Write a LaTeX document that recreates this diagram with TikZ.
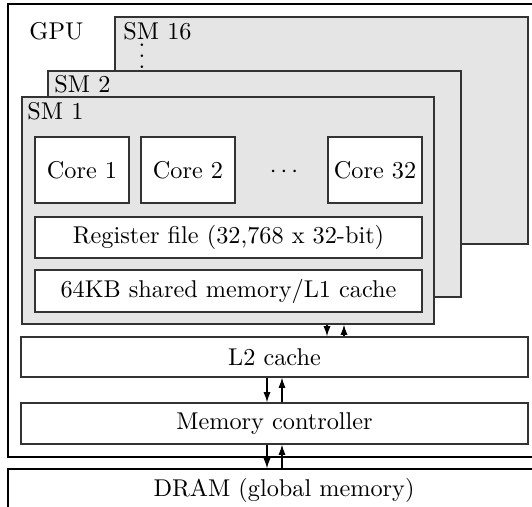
\documentclass[tikz,border=0pt]{standalone}
\usetikzlibrary{arrows.meta}
\begin{document}
\begin{tikzpicture}[x=0.412pt,y=-0.412pt,
  sz/.style 2 args={minimum width=#1*0.412pt,minimum height=#2*0.412pt},
  box/.style={draw=black!80,line width=0.5pt,fill=white,inner sep=0pt},
  smbox/.style={box,fill=black!10},
  outer/.style={draw=black,line width=0.5pt,inner sep=0pt},
  arr/.style={-{Latex[length=4.2pt,width=2.9pt]},line width=0.5pt},
  lbl/.style={anchor=base west,inner sep=0pt}]
\useasboundingbox (0,0) rectangle (532,507);
\clip (0,0) rectangle (532,507);

% GPU chip
\node[outer,sz={552}{453}] (gpu) at (284,230.5) {};
\node[lbl] (gpulbl) at (29,40) {GPU};

% stacked streaming multiprocessors
\node[smbox,sz={413}{227}] (sm16) at (321.5,130.5) {};
\node[lbl] (sm16lbl) at (123,40) {SM 16};
\node[inner sep=0pt] (vd) at (142,56)
  {\vbox{\baselineskip4.5pt\lineskiplimit0pt\hbox{.}\hbox{.}\hbox{.}}};
\node[smbox,sz={413}{226}] (sm2) at (254.5,184) {};
\node[lbl] (sm2lbl) at (54,93) {SM 2};
\node[smbox,sz={412}{227}] (sm1) at (228,210.5) {};
\node[lbl] (sm1lbl) at (27,120) {SM 1};

% cores
\node[box,sz={94}{66}] (c1) at (82,170) {Core 1};
\node[box,sz={94}{66}] (c2) at (188,170) {Core 2};
\node[anchor=base,inner sep=0pt] (cd) at (284,178) {$\cdots$};
\node[box,sz={94}{66}] (c32) at (375,170) {Core 32};

% per-SM storage
\node[box,sz={387}{41}] (reg) at (228.5,237.5) {Register file (32,768 x 32-bit)};
\node[box,sz={387}{42}] (shm) at (228.5,291) {64KB shared memory/L1 cache};

% memory hierarchy
\node[box,sz={507}{40}] (l2) at (274.5,357) {L2 cache};
\node[box,sz={507}{41}] (mc) at (274.5,423.5) {Memory controller};
\node[outer,sz={552}{42}] (dram) at (284,490) {DRAM (global memory)};

% data paths
\coordinate (a1) at (327,0);
\coordinate (a2) at (344,0);
\coordinate (b1) at (267,0);
\coordinate (b2) at (282,0);
\draw[arr] (a1 |- sm1.south) -- (a1 |- l2.north);
\draw[arr] (a2 |- l2.north) -- (a2 |- sm1.south);
\draw[arr] (b1 |- l2.south) -- (b1 |- mc.north);
\draw[arr] (b2 |- mc.north) -- (b2 |- l2.south);
\draw[arr] (b1 |- mc.south) -- (b1 |- dram.north);
\draw[arr] (b2 |- dram.north) -- (b2 |- mc.south);
\end{tikzpicture}
\end{document}
